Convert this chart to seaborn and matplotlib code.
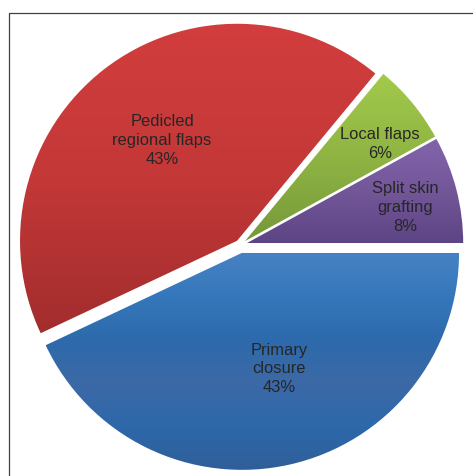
import numpy as np
import matplotlib
matplotlib.use("Agg")
import matplotlib.pyplot as plt
from matplotlib.colors import LinearSegmentedColormap
from matplotlib.lines import Line2D
import seaborn as sns

# ---- data ----
categories = ["Primary\nclosure", "Pedicled\nregional flaps", "Local flaps", "Split skin\ngrafting"]
percentages = [43, 43, 6, 8]
explode = [0.037, 0.0245, 0.028, 0.028]

# gradient colour stops (top -> bottom) for each slice
grad_stops = [
    ["#4682c4", "#3577bb", "#2d6aac", "#3c69a6", "#2d68aa", "#305f99"],
    ["#d23d3d", "#c43838", "#a22d2d"],
    ["#a2ca4b", "#8fb443", "#76993a"],
    ["#8264ac", "#735799", "#5d4484"],
]

sns.set_style("white")
plt.rcParams['font.family'] = ['Liberation Sans', 'DejaVu Sans']

W, H, DPI = 473, 477, 100
fig = plt.figure(figsize=(W / DPI, H / DPI), dpi=DPI)
ax = fig.add_axes([0, 0, 1, 1])

R_PX = 217.0
CX, CY = 240.3, 246.0  # pixel position of pie centre (from top-left)

base_colors = sns.color_palette([s[len(s) // 2] for s in grad_stops])
wedges, _ = ax.pie(percentages, explode=explode, startangle=0, counterclock=False,
                   colors=base_colors, radius=1.0,
                   wedgeprops=dict(edgecolor="white", linewidth=1.0))

ax.set_aspect("auto")
ax.axis("off")

# gradient fill clipped to each wedge
for w, stops in zip(wedges, grad_stops):
    path = w.get_path().transformed(w.get_patch_transform())
    ext = path.get_extents()
    cmap = LinearSegmentedColormap.from_list("g", stops)
    grad = np.linspace(0, 1, 256).reshape(-1, 1)
    im = ax.imshow(grad, cmap=cmap, aspect="auto", origin="upper",
                   extent=(ext.x0, ext.x1, ext.y0, ext.y1), zorder=w.get_zorder() + 0.1,
                   interpolation="bilinear")
    im.set_clip_path(w)

ax.set_xlim(-CX / R_PX, (W - CX) / R_PX)
ax.set_ylim(-(H - CY) / R_PX, CY / R_PX)

# labels
label_dist = [0.557, 0.580, 0.769, 0.751]
angle_shift = [5.2, -1.2, -3.5, -1.4]
for w, cat, pct, d, sh in zip(wedges, categories, percentages, label_dist, angle_shift):
    theta = np.deg2rad((w.theta1 + w.theta2) / 2 + sh)
    cx, cy = w.center
    ax.text(cx + d * np.cos(theta), cy + d * np.sin(theta), f"{cat}\n{pct}%",
            ha="center", va="center", fontsize=11.9, color="#262626",
            linespacing=1.32, zorder=10)

# frame lines (left and top)
lx = 8.5 / W
ty = (H - 13.5) / H
fig.add_artist(Line2D([lx, lx], [0, ty], transform=fig.transFigure, color="#404040", lw=0.9))
fig.add_artist(Line2D([lx, 1], [ty, ty], transform=fig.transFigure, color="#404040", lw=0.9))

fig.savefig("out.png", dpi=DPI, facecolor="white")
